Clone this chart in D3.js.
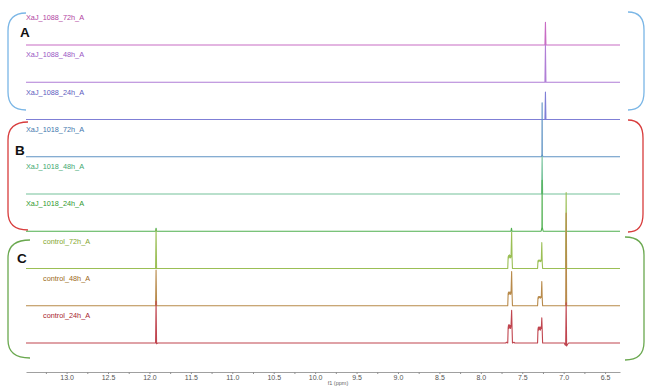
<!DOCTYPE html>
<html><head><meta charset="utf-8">
<script src="https://cdn.jsdelivr.net/npm/d3@7"></script>
<style>body{margin:0;background:#fff}svg{display:block}</style>
</head><body><svg id="c" width="645" height="386"></svg>
<script>
// ---------- data ----------
const spectrumNames = ["XaJ_1088_72h_A","XaJ_1088_48h_A","XaJ_1088_24h_A",
  "XaJ_1018_72h_A","XaJ_1018_48h_A","XaJ_1018_24h_A",
  "control_72h_A","control_48h_A","control_24h_A"];
const groupLetters = ["A","B","C"];
const majorTicks = [13.0,12.5,12.0,11.5,11.0,10.5,10.0,9.5,9.0,8.5,8.0,7.5,7.0,6.5];
const minorTicks = [13.25,12.75,12.25,11.75,11.25,10.75,10.25,9.75,9.25,8.75,8.25,7.75,7.25,6.75];
const axisTitle = "f1 (ppm)";

// [ppm, intensity] points of each trace (relative intensity)
const s1088_72h = [[13.49,0],[7.226,0],[7.22,30],[7.214,0],[6.32,0]];
const s1088_48h = [[13.49,0],[7.226,0],[7.22,49],[7.214,0],[6.32,0]];
const s1088_24h = [[13.49,0],[7.226,0],[7.22,36],[7.214,0],[6.32,0]];
const s1018_72h = [[13.49,0],[7.268,0],[7.262,3],[7.26,71],[7.258,3],[7.252,0],[6.32,0]];
const s1018_48h = [[13.49,0],[7.266,0],[7.26,49],[7.254,0],[6.32,0]];
const s1018_24h = [[13.49,0],[11.926,0],[11.92,4],[11.914,0],[7.636,0],[7.63,4],[7.624,0],
  [7.272,0],[7.266,3],[7.262,5],[7.26,67],[7.258,5],[7.254,3],[7.248,0],[6.32,0]];
const sControl_72h = [[13.49,0],[11.926,0],[11.92,51],[11.914,0],
  [7.675,0],[7.67,15],[7.665,17],[7.66,14],[7.655,18],[7.65,15],[7.645,17],[7.64,14],[7.635,17],[7.628,48],[7.623,15],[7.618,0],
  [7.315,0],[7.31,10],[7.305,11],[7.30,9],[7.295,11],[7.29,10],[7.285,11],[7.28,9],[7.275,11],[7.27,10],[7.264,34],[7.259,9],[7.254,0],
  [6.976,0],[6.97,100],[6.964,0],[6.32,0]];
const sControl_48h = [[13.49,0],[11.926,0],[11.92,47],[11.914,0],
  [7.675,0],[7.67,16],[7.665,18],[7.66,15],[7.655,18],[7.65,16],[7.645,18],[7.64,15],[7.635,18],[7.628,45],[7.623,16],[7.618,0],
  [7.315,0],[7.31,10],[7.305,12],[7.30,10],[7.295,12],[7.29,11],[7.285,12],[7.28,10],[7.275,12],[7.27,11],[7.264,32],[7.259,10],[7.254,0],
  [6.976,0],[6.97,122],[6.964,0],[6.32,0]];
const sControl_24h = [[13.49,0],[11.926,0],[11.92,55],[11.914,-1],[11.90,0],
  [7.70,0],[7.69,1],[7.675,0],[7.67,20],[7.665,24],[7.66,19],[7.655,24],[7.65,20],[7.645,23],[7.64,19],[7.635,24],[7.628,43],[7.623,20],[7.618,0],[7.60,1],[7.59,0],
  [7.315,0],[7.31,18],[7.305,21],[7.30,17],[7.295,21],[7.29,18],[7.285,21],[7.28,17],[7.275,21],[7.27,19],[7.264,33],[7.259,17],[7.254,0],
  [6.99,0],[6.985,-2],[6.976,-3],[6.97,53],[6.964,-4],[6.955,-2],[6.94,0],[6.32,0]];
const spectra = [s1088_72h,s1088_48h,s1088_24h,s1018_72h,s1018_48h,s1018_24h,sControl_72h,sControl_48h,sControl_24h];

const lineColors  = ["#c86cc4","#b07ed6","#7f7fd6","#5f93c4","#74c29a","#4fb04f","#9bbf55","#b88a4a","#c0454f"];
const labelColors = ["#b1449f","#9957c4","#5d5cc0","#3f78ad","#3ea870","#2f9a2f","#86a832","#9c6a20","#a8252f"];

// ---------- layout ----------
const svg = d3.select("#c");
const x = d3.scaleLinear().domain([13.49, 6.32]).range([26, 620]);
const base = d3.scalePoint().domain(spectrumNames).range([45, 343]);
const inten = d3.scaleLinear().domain([0, 100]).range([0, 76]);

// brackets
const bracketColors = ["#7ab6e6","#d83c3c","#6aa84f"];
const leftBr  = [{t:13,b:110,i:26,o:8},{t:122,b:230,i:28,o:8},{t:240,b:358,i:30,o:8}];
const rightBr = [{t:12,b:110,i:628,o:644},{t:120,b:232,i:628,o:643},{t:237,b:360,i:625,o:644}];
function brPath(d){
  const r = 18;
  return `M${d.i},${d.t} Q${d.o},${d.t} ${d.o},${d.t+r} L${d.o},${d.b-r} Q${d.o},${d.b} ${d.i},${d.b}`;
}
svg.selectAll("path.lbr").data(leftBr).join("path").attr("class","lbr")
  .attr("d",brPath).attr("fill","none").attr("stroke",(d,i)=>bracketColors[i]).attr("stroke-width",1.3);
svg.selectAll("path.rbr").data(rightBr).join("path").attr("class","rbr")
  .attr("d",brPath).attr("fill","none").attr("stroke",(d,i)=>bracketColors[i]).attr("stroke-width",1.3);

// group letters
const letterPos = [{x:20,y:37},{x:15,y:155},{x:17,y:263}];
svg.selectAll("text.letter").data(groupLetters).join("text").attr("class","letter")
  .attr("x",(d,i)=>letterPos[i].x).attr("y",(d,i)=>letterPos[i].y)
  .attr("font-family","Liberation Sans, Arial, sans-serif").attr("font-weight","bold")
  .attr("font-size",13.5).attr("fill","#111").text(d=>d);

// traces (top first so lower spectra paint over)
const line = d3.line().x(d=>x(d[0]));
spectra.forEach((s,i)=>{
  const b = base(spectrumNames[i]);
  svg.append("path").datum(s)
    .attr("d", line.y(d=>b - inten(d[1])))
    .attr("fill","none").attr("stroke",lineColors[i]).attr("stroke-width",1.1)
    .attr("stroke-linejoin","round");
});

// labels
svg.selectAll("text.lab").data(spectrumNames).join("text").attr("class","lab")
  .attr("x",d=>d.startsWith("control")?43:26)
  .attr("y",d=>base(d)-25)
  .attr("font-family","Liberation Sans, Arial, sans-serif").attr("font-size",7.3)
  .attr("fill",(d,i)=>labelColors[i]).text(d=>d);

// axis
const gAx = svg.append("g").attr("transform","translate(0,372)");
gAx.call(d3.axisBottom(x).tickValues(majorTicks).tickFormat(d3.format(".1f")).tickSize(2).tickSizeOuter(0));
const gMin = svg.append("g").attr("transform","translate(0,372)");
gMin.call(d3.axisBottom(x).tickValues(minorTicks).tickFormat("").tickSize(2).tickSizeOuter(0));
gMin.select(".domain").remove();
svg.selectAll("g .domain").attr("stroke","#a0a0a0");
svg.selectAll("g .tick line").attr("stroke","#909090");
gAx.selectAll(".tick text").attr("font-family","Liberation Sans, Arial, sans-serif")
  .attr("font-size",7).attr("fill","#555").attr("dy","0.9em").attr("y",2);
svg.append("text").attr("x",338).attr("y",384.5).attr("text-anchor","middle")
  .attr("font-family","Liberation Sans, Arial, sans-serif").attr("font-size",5.5).attr("fill","#666").text(axisTitle);
</script>
</body></html>
